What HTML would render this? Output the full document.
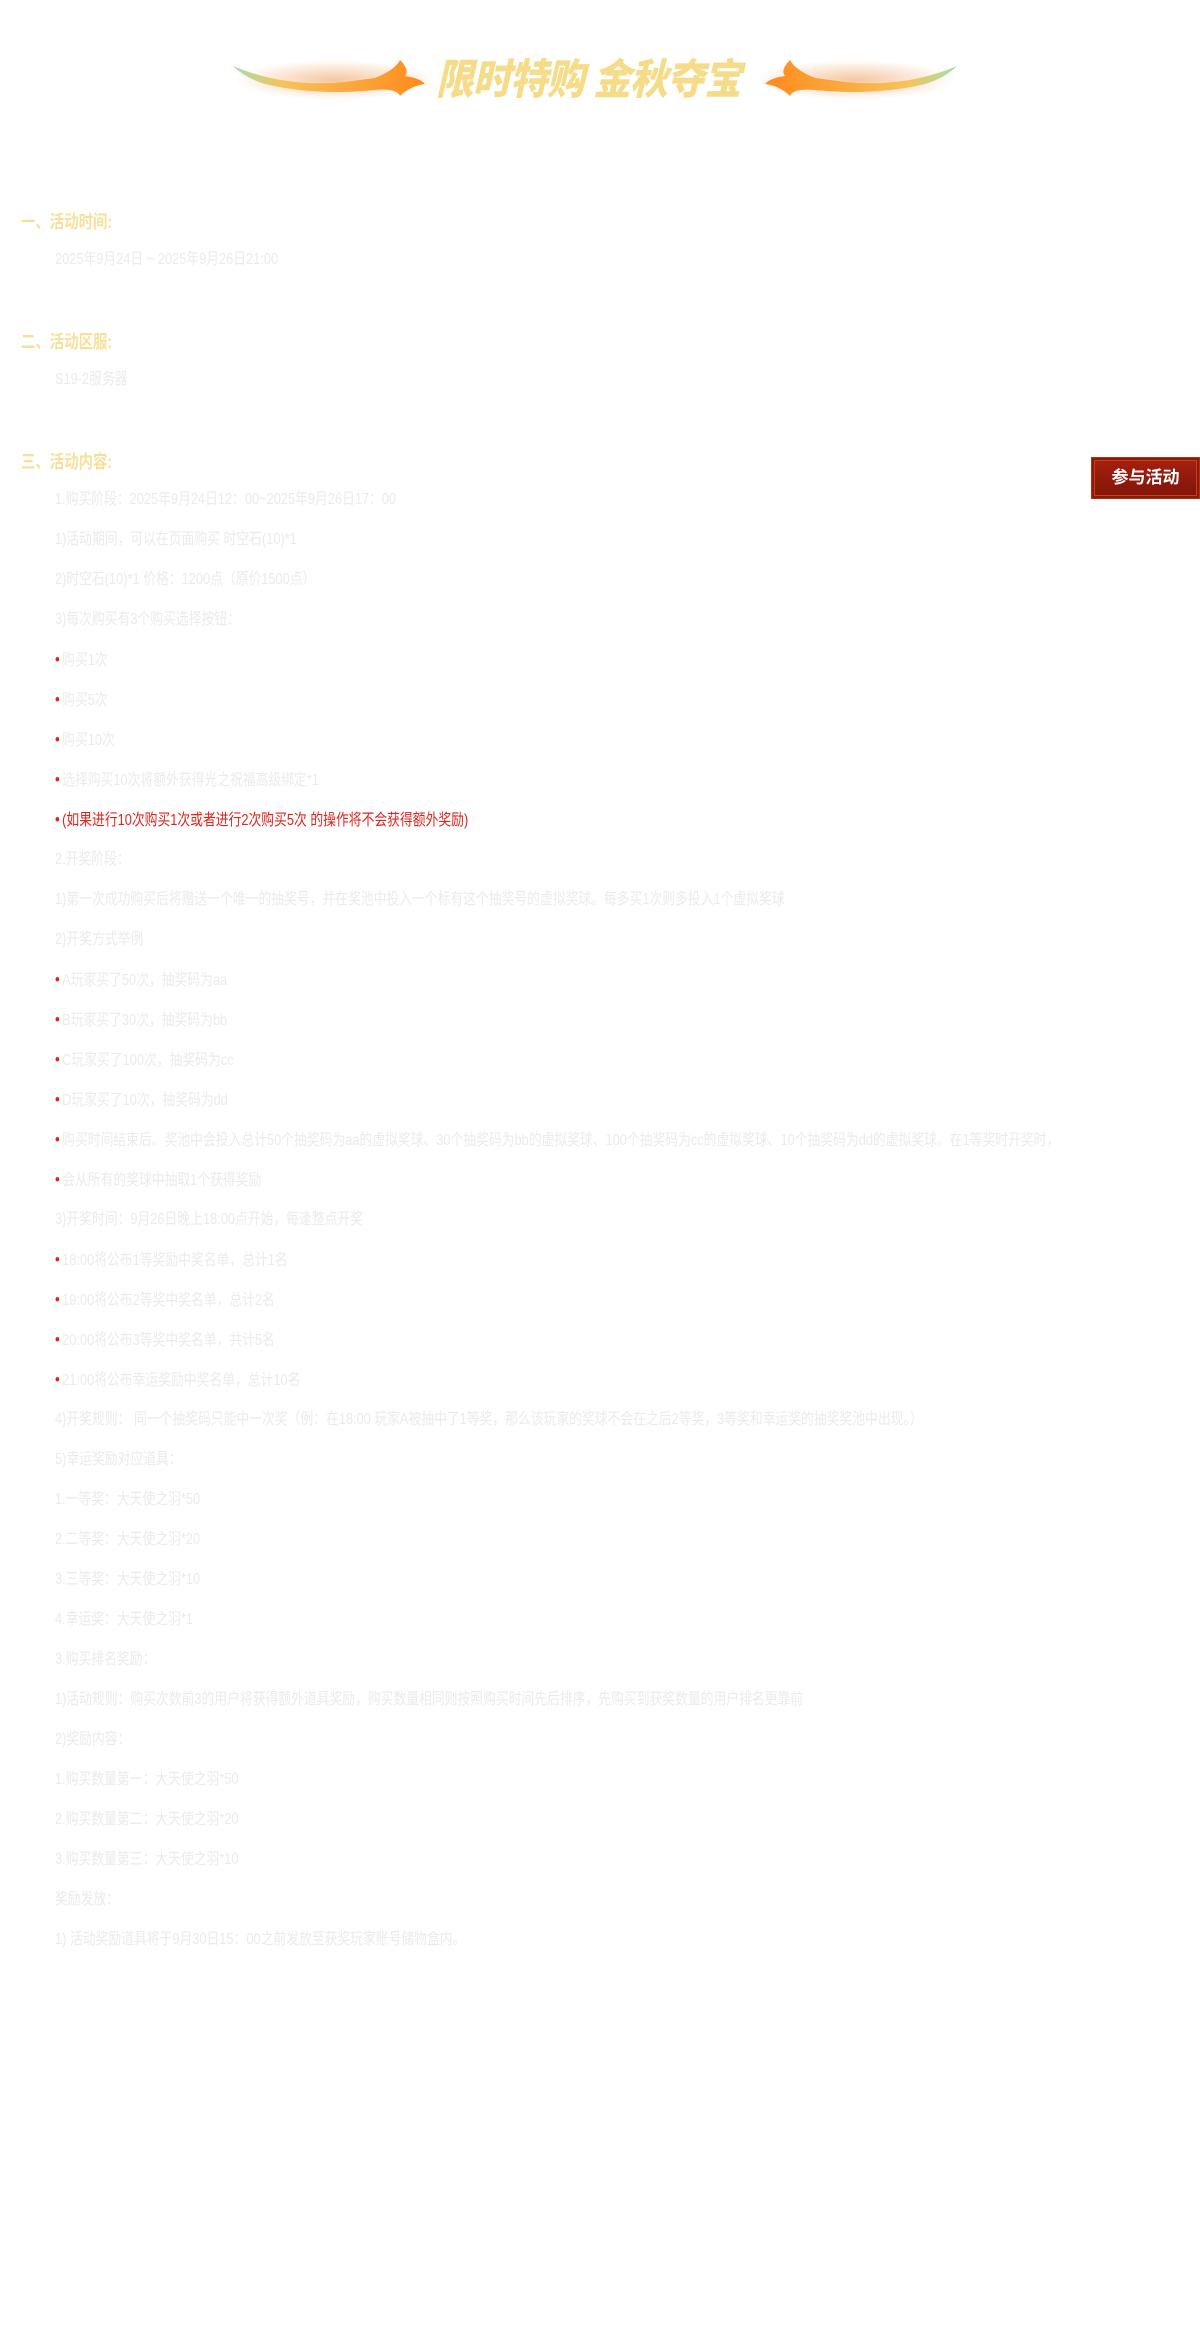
<!DOCTYPE html>
<html><head><meta charset="utf-8">
<style>
html,body{margin:0;padding:0;background:#fff;}
body{width:1200px;height:2328px;position:relative;overflow:hidden;font-family:"Liberation Sans","Noto Sans CJK SC",sans-serif;}
.ab{position:absolute;white-space:nowrap;}
.h{font-size:18px;font-weight:bold;color:#f8e09a;transform:scaleX(.8);transform-origin:left center;line-height:24px;}
.t{font-size:16px;color:#ebebeb;transform:scaleX(.8);transform-origin:left center;line-height:24px;}
#lines{position:absolute;left:55px;top:480px;}
#lines div{height:40px;line-height:40px;font-size:16px;color:#ebebeb;white-space:nowrap;transform:scaleX(.8);transform-origin:left center;}
#lines div.b::before{content:"•";color:#e0231c;margin-right:3px;font-size:17px;}
#lines div.r{color:#e0231c;}
.btn{position:absolute;left:1091px;top:457px;width:109px;height:42px;background:linear-gradient(#a8200f,#7e1409);box-sizing:border-box;border:1px solid #b4300f;box-shadow:inset 0 0 0 2px #8a1a0c, inset 0 0 0 3px #c8401c;color:#fff;font-weight:bold;font-size:17px;text-align:center;line-height:40px;font-family:"Liberation Sans","Noto Sans CJK SC",sans-serif;}
.title{position:absolute;left:436px;top:56px;font-size:42px;font-weight:900;font-style:italic;color:#f6dc88;letter-spacing:-1px;transform:scaleX(.9);transform-origin:left top;line-height:48px;white-space:nowrap;}
</style></head><body>
<svg class="ab" style="left:225px;top:52px" width="205" height="52" viewBox="0 0 205 52">
<defs>
<linearGradient id="g1" x1="0" x2="1"><stop offset="0" stop-color="#9be3b0"/><stop offset=".25" stop-color="#f7c35a"/><stop offset="1" stop-color="#ff8a1c"/></linearGradient>
<radialGradient id="gl" cx=".5" cy=".5" r=".5"><stop offset="0" stop-color="#f0a060" stop-opacity=".6"/><stop offset="1" stop-color="#f0a060" stop-opacity="0"/></radialGradient>
</defs>
<ellipse cx="110" cy="28" rx="100" ry="20" fill="url(#gl)"/>
<path d="M8 14 Q60 36 120 30 L150 26 Q170 18 175 8 Q185 18 180 24 Q195 26 200 32 Q185 34 175 44 Q172 36 150 38 Q90 44 40 32 Q20 26 8 14Z" fill="url(#g1)"/>
</svg>
<svg class="ab" style="left:760px;top:52px;transform:scaleX(-1)" width="205" height="52" viewBox="0 0 205 52">
<defs>
<linearGradient id="g2" x1="0" x2="1"><stop offset="0" stop-color="#9be3b0"/><stop offset=".25" stop-color="#f7c35a"/><stop offset="1" stop-color="#ff8a1c"/></linearGradient>
<radialGradient id="gl2" cx=".5" cy=".5" r=".5"><stop offset="0" stop-color="#f0a060" stop-opacity=".6"/><stop offset="1" stop-color="#f0a060" stop-opacity="0"/></radialGradient>
</defs>
<ellipse cx="110" cy="28" rx="100" ry="20" fill="url(#gl2)"/>
<path d="M8 14 Q60 36 120 30 L150 26 Q170 18 175 8 Q185 18 180 24 Q195 26 200 32 Q185 34 175 44 Q172 36 150 38 Q90 44 40 32 Q20 26 8 14Z" fill="url(#g2)"/>
</svg>
<div class="title">限时特购&nbsp;金秋夺宝</div>

<div class="ab h" style="left:21px;top:210px">一、活动时间:</div>
<div class="ab t" style="left:55px;top:248px">2025年9月24日 ~ 2025年9月26日21:00</div>
<div class="ab h" style="left:21px;top:330px">二、活动区服:</div>
<div class="ab t" style="left:55px;top:368px">S19-2服务器</div>
<div class="ab h" style="left:21px;top:450px">三、活动内容:</div>

<div class="btn">参与活动</div>

<div id="lines">
<div>1.购买阶段：2025年9月24日12：00~2025年9月26日17：00</div>
<div>1)活动期间，可以在页面购买 时空石(10)*1</div>
<div>2)时空石(10)*1 价格：1200点（原价1500点）</div>
<div>3)每次购买有3个购买选择按钮：</div>
<div class="b">购买1次</div>
<div class="b">购买5次</div>
<div class="b">购买10次</div>
<div class="b">选择购买10次将额外获得光之祝福高级绑定*1</div>
<div class="b r">(如果进行10次购买1次或者进行2次购买5次 的操作将不会获得额外奖励)</div>
<div>2.开奖阶段：</div>
<div>1)第一次成功购买后将赠送一个唯一的抽奖号，并在奖池中投入一个标有这个抽奖号的虚拟奖球。每多买1次则多投入1个虚拟奖球</div>
<div>2)开奖方式举例</div>
<div class="b">A玩家买了50次，抽奖码为aa</div>
<div class="b">B玩家买了30次，抽奖码为bb</div>
<div class="b">C玩家买了100次，抽奖码为cc</div>
<div class="b">D玩家买了10次，抽奖码为dd</div>
<div class="b">购买时间结束后。奖池中会投入总计50个抽奖码为aa的虚拟奖球、30个抽奖码为bb的虚拟奖球、100个抽奖码为cc的虚拟奖球、10个抽奖码为dd的虚拟奖球。在1等奖时开奖时，</div>
<div class="b">会从所有的奖球中抽取1个获得奖励</div>
<div>3)开奖时间：9月26日晚上18:00点开始，每逢整点开奖</div>
<div class="b">18:00将公布1等奖励中奖名单，总计1名</div>
<div class="b">19:00将公布2等奖中奖名单，总计2名</div>
<div class="b">20:00将公布3等奖中奖名单，共计5名</div>
<div class="b">21:00将公布幸运奖励中奖名单，总计10名</div>
<div>4)开奖规则： 同一个抽奖码只能中一次奖（例：在18:00 玩家A被抽中了1等奖，那么该玩家的奖球不会在之后2等奖，3等奖和幸运奖的抽奖奖池中出现。）</div>
<div>5)幸运奖励对应道具：</div>
<div>1.一等奖：大天使之羽*50</div>
<div>2.二等奖：大天使之羽*20</div>
<div>3.三等奖：大天使之羽*10</div>
<div>4.幸运奖：大天使之羽*1</div>
<div>3.购买排名奖励：</div>
<div>1)活动规则：购买次数前3的用户将获得额外道具奖励，购买数量相同则按照购买时间先后排序，先购买到获奖数量的用户排名更靠前</div>
<div>2)奖励内容：</div>
<div>1.购买数量第一：大天使之羽*50</div>
<div>2.购买数量第二：大天使之羽*20</div>
<div>3.购买数量第三：大天使之羽*10</div>
<div>奖励发放：</div>
<div>1) 活动奖励道具将于9月30日15：00之前发放至获奖玩家账号储物盒内。</div>
</div>
</body></html>
